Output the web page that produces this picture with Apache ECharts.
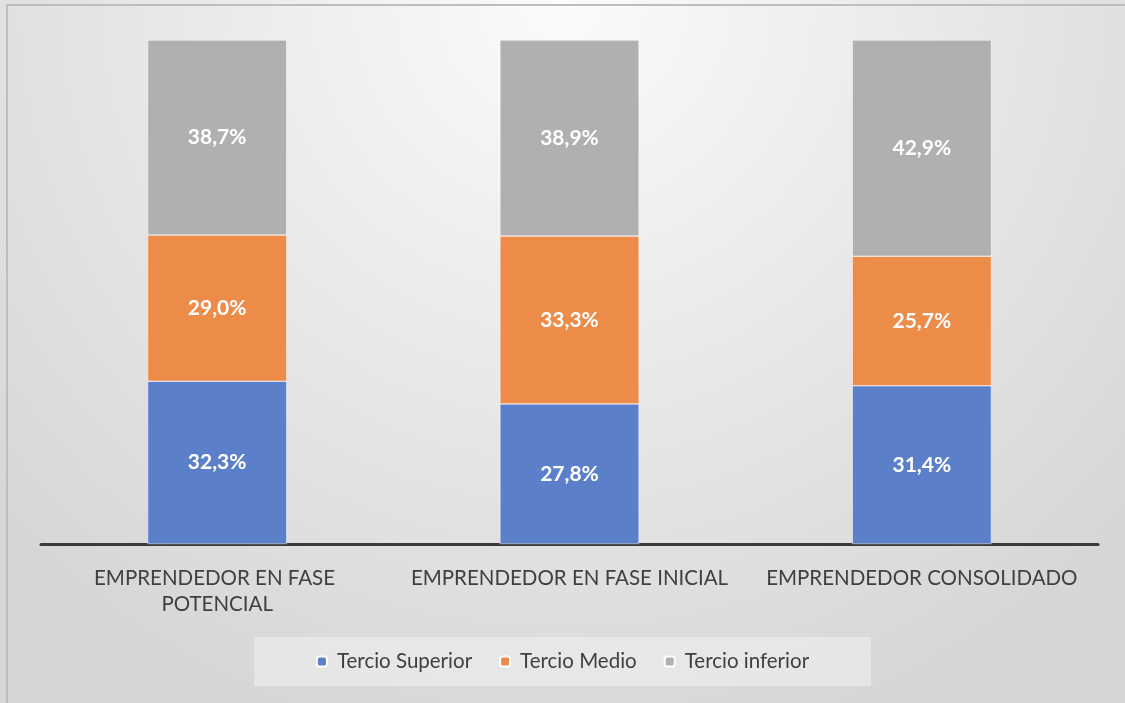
<!DOCTYPE html>
<html>
<head>
<meta charset="utf-8">
<script src="https://cdn.jsdelivr.net/npm/echarts@6/dist/echarts.min.js"></script>
<style>
  html, body { margin: 0; padding: 0; }
  #chart { width: 1125px; height: 703px; }
</style>
</head>
<body>
<div id="chart"></div>
<script>
// categorías y porcentajes
var categorias = ['EMPRENDEDOR EN FASE POTENCIAL', 'EMPRENDEDOR EN FASE INICIAL', 'EMPRENDEDOR CONSOLIDADO'];
var tercioSuperior = [32.3, 27.8, 31.4];
var tercioMedio = [29.0, 33.3, 25.7];
var tercioInferior = [38.7, 38.9, 42.9];

var fuente = 'Lato';

var etiqueta = {
  show: true,
  color: '#ffffff',
  fontFamily: fuente,
  fontWeight: 'bold',
  fontSize: 21,
  formatter: function (p) { return p.value.toFixed(1).replace('.', ',') + '%'; }
};

function serie(nombre, datos, color) {
  return {
    name: nombre,
    type: 'bar',
    stack: 'total',
    barWidth: '39.5%',
    data: datos,
    itemStyle: { color: color, borderColor: '#ffffff', borderWidth: 0.5 },
    label: etiqueta
  };
}

var myChart = echarts.init(document.getElementById('chart'));
var option = {
  animation: false,
  backgroundColor: {
    type: 'radial', x: 0.5, y: 0, r: 1.1,
    colorStops: [
      { offset: 0, color: '#fbfbfb' },
      { offset: 1, color: '#d6d6d6' }
    ]
  },
  graphic: [{
    type: 'rect',
    shape: { x: 7, y: 5, width: 1125, height: 720 },
    style: { fill: 'none', stroke: '#bdbdbd', lineWidth: 2 },
    silent: true
  }],
  grid: { left: 41, right: 27, top: 40, bottom: 159 },
  xAxis: {
    type: 'category',
    data: categorias,
    axisLine: { lineStyle: { color: '#3a3a3a', width: 3 } },
    axisTick: { show: false },
    axisLabel: {
      color: '#404040',
      fontFamily: fuente,
      fontSize: 20.5,
      lineHeight: 26,
      margin: 21,
      width: 340,
      overflow: 'break',
      interval: 0
    }
  },
  yAxis: {
    type: 'value',
    min: 0,
    max: 100,
    show: false
  },
  legend: {
    bottom: 17,
    left: 'center',
    itemWidth: 10,
    itemHeight: 10,
    itemGap: 27,
    padding: [14, 62],
    backgroundColor: 'rgba(255,255,255,0.35)',
    textStyle: { color: '#404040', fontFamily: fuente, fontSize: 20.5, padding: [0, 0, 0, 5] },
    data: ['Tercio Superior', 'Tercio Medio', 'Tercio inferior']
  },
  series: [
    serie('Tercio Superior', tercioSuperior, '#5b80c9'),
    serie('Tercio Medio', tercioMedio, '#ed8b48'),
    serie('Tercio inferior', tercioInferior, '#b0b0b0')
  ]
};
myChart.setOption(option);
</script>
</body>
</html>
